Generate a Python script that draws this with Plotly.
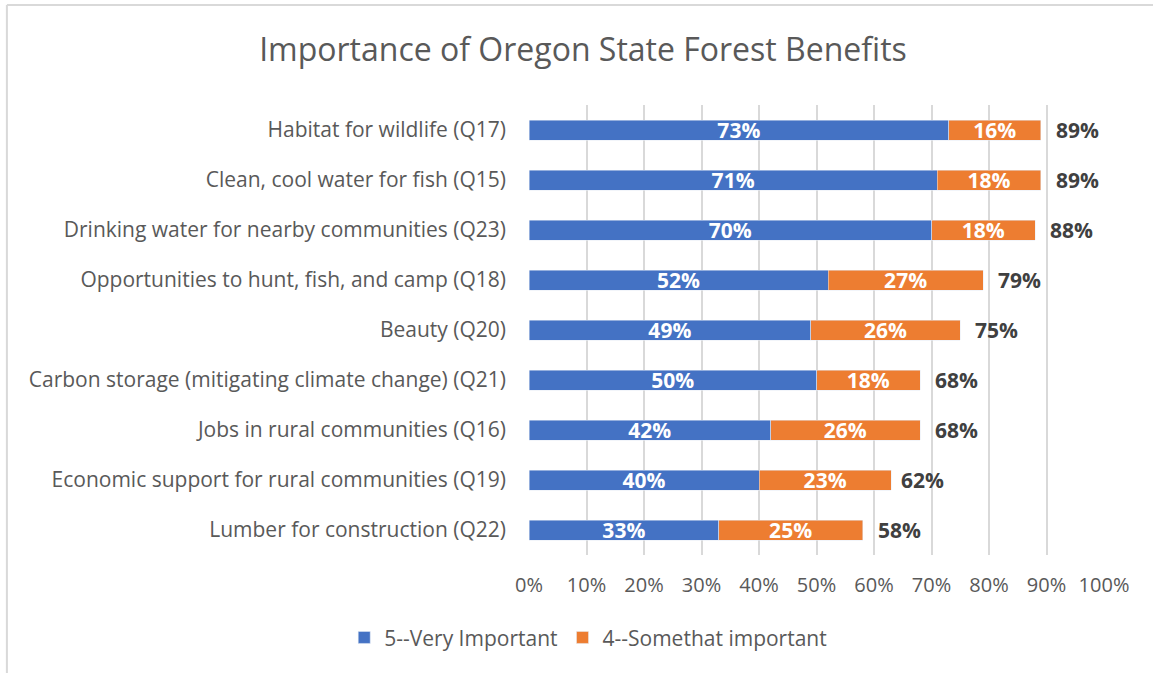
import plotly.graph_objects as go

# Datos
categorias = [
    'Habitat for wildlife (Q17)',
    'Clean, cool water for fish (Q15)',
    'Drinking water for nearby communities (Q23)',
    'Opportunities to hunt, fish, and camp (Q18)',
    'Beauty (Q20)',
    'Carbon storage (mitigating climate change) (Q21)',
    'Jobs in rural communities (Q16)',
    'Economic support for rural communities (Q19)',
    'Lumber for construction (Q22)',
]
muy_importante = [73, 71, 70, 52, 49, 50, 42, 40, 33]
algo_importante = [16, 18, 18, 27, 26, 18, 26, 23, 25]
totales = [89, 89, 88, 79, 75, 68, 68, 62, 58]
ticks = [0, 10, 20, 30, 40, 50, 60, 70, 80, 90, 100]

COLORS = {
    'azul':    '#4472C4',
    'naranja': '#ED7D31',
    'grid':    '#D9D9D9',
    'texto':   '#595959',
    'total':   '#404040',
}
FUENTE = 'Open Sans, Arial, sans-serif'

fig = go.Figure()

fig.add_trace(go.Bar(
    y=categorias, x=muy_importante, orientation='h',
    name='5--Very Important', marker_color=COLORS['azul'],
    text=[f'{v}%' for v in muy_importante], textposition='inside',
    insidetextanchor='middle', constraintext='none',
    textfont=dict(color='white', size=21, family=FUENTE, weight='bold'),
))
fig.add_trace(go.Bar(
    y=categorias, x=algo_importante, orientation='h',
    name='4--Somethat important', marker_color=COLORS['naranja'],
    text=[f'{v}%' for v in algo_importante], textposition='inside',
    insidetextanchor='middle', constraintext='none',
    textfont=dict(color='white', size=21, family=FUENTE, weight='bold'),
))

# Totales a la derecha de cada barra
for cat, tot in zip(categorias, totales):
    fig.add_annotation(
        x=tot, y=cat, text=f'<b>{tot}%</b>', showarrow=False,
        xanchor='left', xshift=13,
        font=dict(size=21, color=COLORS['total'], family=FUENTE),
    )

# Marco del grafico
fig.add_shape(type='line', xref='paper', yref='paper',
              x0=-0.908, x1=1.09, y0=1.222, y1=1.222,
              line=dict(color='#D9D9D9', width=2))
fig.add_shape(type='line', xref='paper', yref='paper',
              x0=-0.908, x1=-0.908, y0=1.222, y1=-0.27,
              line=dict(color='#D9D9D9', width=2))

fig.update_layout(
    width=1153, height=673,
    barmode='stack', bargap=0.6,
    paper_bgcolor='white', plot_bgcolor='white',
    margin=dict(l=529, r=49, t=105, b=118),
    font=dict(family=FUENTE, color=COLORS['texto'], size=20),
    title=dict(text='Importance of Oregon State Forest Benefits',
               x=0.5056, y=0.926, xanchor='center', yanchor='middle',
               font=dict(size=32, color=COLORS['texto'], family=FUENTE)),
    legend=dict(orientation='h', x=0.103, y=-0.184, xanchor='center',
                yanchor='middle', font=dict(size=21, color=COLORS['texto']),
                traceorder='normal'),
    showlegend=True,
)
fig.update_xaxes(range=[0, 100], tickvals=ticks,
                 ticktext=[f'{t}%' for t in ticks],
                 showgrid=True, gridcolor=COLORS['grid'], gridwidth=2,
                 zeroline=False, showline=False, ticks='',
                 ticklabelstandoff=16,
                 tickfont=dict(size=20, color=COLORS['texto']))
fig.update_yaxes(autorange='reversed', showgrid=False, ticks='',
                 ticklabelstandoff=22,
                 tickfont=dict(size=21, color=COLORS['texto']))

fig.write_html('out.html', config={'displayModeBar': False},
               post_script="document.body.style.margin='0px';")
